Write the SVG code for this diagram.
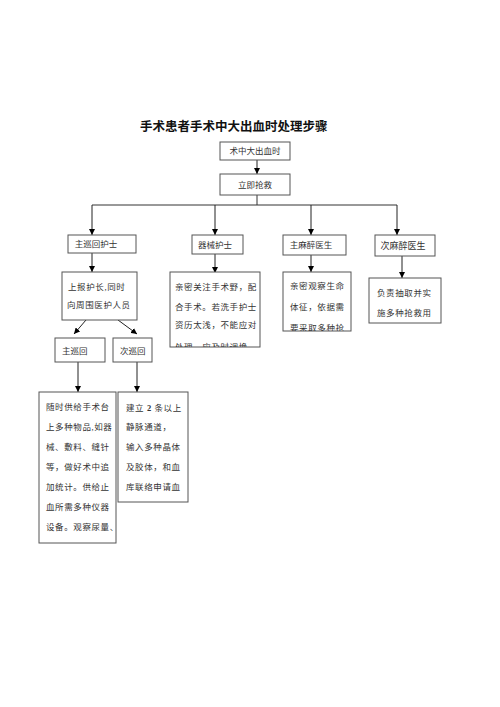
<svg xmlns="http://www.w3.org/2000/svg" width="500" height="707" viewBox="0 0 500 707">
<defs>
<marker id="ah" viewBox="0 0 6 6" refX="6" refY="3" markerWidth="6" markerHeight="6" markerUnits="userSpaceOnUse" orient="auto">
<path d="M0,0 L6,3 L0,6 Z" fill="#000"/>
</marker>
<clipPath id="c1"><rect x="170" y="272" width="90" height="75"/></clipPath>
<clipPath id="c2"><rect x="283" y="272" width="68" height="59"/></clipPath>
</defs>
<style>
.bx{fill:#fff;stroke:#555;stroke-width:1}
.t{font-family:"Liberation Serif","Noto Sans CJK SC",serif;font-size:8.5px;fill:#333}
.b{font-family:"Liberation Serif","Noto Sans CJK SC",serif;font-size:8.5px;fill:#333;letter-spacing:0.6px}
.ttl{font-family:"Noto Sans CJK SC",sans-serif;font-size:12.5px;font-weight:bold;fill:#111}
.ln{fill:none;stroke:#333;stroke-width:1}
.ar{fill:none;stroke:#222;stroke-width:1;marker-end:url(#ah)}
</style>
<rect width="500" height="707" fill="#fff"/>
<text class="ttl" x="140" y="131">手术患者手术中大出血时处理步骤</text>

<g id="connectors">
<line class="ar" x1="257" y1="160" x2="257" y2="174"/>
<polyline class="ln" points="257,195 257,205"/>
<line class="ln" x1="92" y1="205" x2="397" y2="205"/>
<line class="ar" x1="92" y1="205" x2="92" y2="235"/>
<line class="ar" x1="215" y1="205" x2="215" y2="235"/>
<line class="ar" x1="311" y1="205" x2="311" y2="235"/>
<line class="ar" x1="397" y1="205" x2="397" y2="235"/>
<line class="ar" x1="92" y1="253" x2="92" y2="272"/>
<line class="ar" x1="215" y1="254" x2="215" y2="273"/>
<line class="ar" x1="311" y1="255" x2="311" y2="272"/>
<line class="ar" x1="402" y1="256" x2="402" y2="278"/>
<line class="ar" x1="86" y1="320" x2="74" y2="334"/>
<line class="ar" x1="118" y1="320" x2="137" y2="334"/>
<line class="ar" x1="78" y1="362" x2="78" y2="392"/>
<line class="ar" x1="137" y1="362" x2="137" y2="392"/>
</g>

<g id="n-start">
<rect class="bx" x="220" y="142" width="70" height="18"/>
<text class="t" x="255" y="154" text-anchor="middle">术中大出血时</text>
</g>
<g id="n-rescue">
<rect class="bx" x="220" y="174" width="70" height="21"/>
<text class="t" x="255" y="188" text-anchor="middle">立即抢救</text>
</g>
<g id="n-main-circ">
<rect class="bx" x="68" y="235" width="68" height="18"/>
<text class="t" x="96" y="247" text-anchor="middle">主巡回护士</text>
</g>
<g id="n-instr">
<rect class="bx" x="192" y="235" width="51" height="19"/>
<text class="t" x="215" y="248" text-anchor="middle">器械护士</text>
</g>
<g id="n-main-anes">
<rect class="bx" x="283" y="235" width="63" height="20"/>
<text class="t" x="311" y="248" text-anchor="middle">主麻醉医生</text>
</g>
<g id="n-sub-anes">
<rect class="bx" x="375" y="235" width="60" height="21"/>
<text class="t" x="403" y="249" text-anchor="middle" style="font-size:9px">次麻醉医生</text>
</g>
<g id="n-report">
<rect class="bx" x="62" y="272" width="75" height="48"/>
<text class="b" x="68" y="290">上报护长,同时</text>
<text class="b" x="67" y="308">向周围医护人员</text>
</g>
<g id="n-instr-body">
<rect class="bx" x="170" y="272" width="90" height="75"/>
<g clip-path="url(#c1)">
<text class="b" x="175" y="290">亲密关注手术野，配</text>
<text class="b" x="175" y="310">合手术。若洗手护士</text>
<text class="b" x="175" y="328">资历太浅，不能应对</text>
<text class="b" x="175" y="350">处理，应及时调换</text>
</g>
</g>
<g id="n-anes-body">
<rect class="bx" x="283" y="272" width="68" height="59"/>
<g clip-path="url(#c2)">
<text class="b" x="290" y="289">亲密观察生命</text>
<text class="b" x="290" y="310">体征，依据需</text>
<text class="b" x="290" y="331">要采取多种抢</text>
</g>
</g>
<g id="n-sub-anes-body">
<rect class="bx" x="369" y="278" width="72" height="45"/>
<text class="b" x="377" y="296">负责抽取并实</text>
<text class="b" x="377" y="316">施多种抢救用</text>
</g>
<g id="n-main-round">
<rect class="bx" x="55" y="338" width="50" height="24"/>
<text class="t" x="62" y="354">主巡回</text>
</g>
<g id="n-sub-round">
<rect class="bx" x="113" y="338" width="39" height="24"/>
<text class="t" x="120" y="354">次巡回</text>
</g>
<g id="n-main-round-body">
<rect class="bx" x="39" y="392" width="77" height="151"/>
<text class="b" x="46" y="410">随时供给手术台</text>
<text class="b" x="46" y="430">上多种物品,如器</text>
<text class="b" x="46" y="450">械、敷料、缝针</text>
<text class="b" x="46" y="470">等，做好术中追</text>
<text class="b" x="46" y="490">加统计。供给止</text>
<text class="b" x="46" y="510">血所需多种仪器</text>
<text class="b" x="46" y="530">设备。观察尿量、</text>
</g>
<g id="n-sub-round-body">
<rect class="bx" x="118" y="392" width="70" height="110"/>
<text class="b" x="126" y="411">建立 <tspan font-weight="bold">2</tspan> 条以上</text>
<text class="b" x="126" y="430">静脉通道，</text>
<text class="b" x="126" y="450">输入多种晶体</text>
<text class="b" x="126" y="470">及胶体，和血</text>
<text class="b" x="126" y="490">库联络申请血</text>
</g>
</svg>
